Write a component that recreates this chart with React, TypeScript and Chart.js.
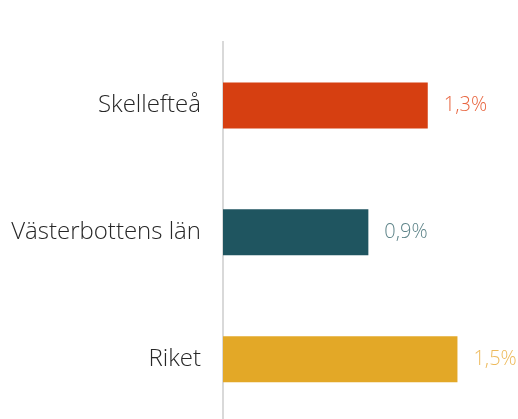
import React, { useEffect, useRef } from "react";
import { Chart, registerables } from "chart.js";

Chart.register(...registerables);

const categories = ["Skellefteå", "Västerbottens län", "Riket"];
const values = [1.31, 0.93, 1.5];
const valueLabels = ["1,3%", "0,9%", "1,5%"];
const barColors = ["#D63F11", "#1F5560", "#E3A827"];
const labelColors = ["#E8653F", "#5E8489", "#EDBA5C"];

const FONT = "'Open Sans', sans-serif";

const valueLabelPlugin = {
  id: "valueLabels",
  afterDatasetsDraw(chart: any) {
    const ctx = chart.ctx;
    const meta = chart.getDatasetMeta(0);
    ctx.save();
    ctx.font = `300 20px ${FONT}`;
    ctx.textAlign = "left";
    ctx.textBaseline = "middle";
    meta.data.forEach((bar: any, i: number) => {
      ctx.fillStyle = labelColors[i];
      ctx.fillText(valueLabels[i], bar.x + 16, bar.y);
    });
    ctx.restore();
  },
};

export default function App() {
  const ref = useRef<HTMLCanvasElement>(null);
  useEffect(() => {
    const chart = new Chart(ref.current!, {
      type: "bar",
      data: {
        labels: categories,
        datasets: [
          {
            data: values,
            backgroundColor: barColors,
            categoryPercentage: 1,
            barPercentage: 0.362,
          },
        ],
      },
      options: {
        indexAxis: "y",
        animation: false,
        responsive: false,
        maintainAspectRatio: false,
        layout: { padding: { top: 42, bottom: 5, right: 16, left: 0 } },
        plugins: { legend: { display: false }, tooltip: { enabled: false } },
        scales: {
          x: {
            min: 0,
            max: 1.785,
            display: false,
          },
          y: {
            grid: { display: false, drawTicks: false },
            border: { display: true, color: "#D9D9D9", width: 2 },
            ticks: {
              color: "#262626",
              padding: 22,
              font: { family: FONT, size: 24, weight: "300" as any },
            },
            afterFit(scale: any) {
              scale.width = 223;
            },
          },
        },
      },
      plugins: [valueLabelPlugin],
    });
    return () => chart.destroy();
  }, []);
  return (
    <div style={{ position: "fixed", left: 0, top: 0, width: 518, height: 419, overflow: "hidden" }}>
      <canvas ref={ref} width={518} height={459} style={{ display: "block", width: 518, height: 459 }} />
    </div>
  );
}
